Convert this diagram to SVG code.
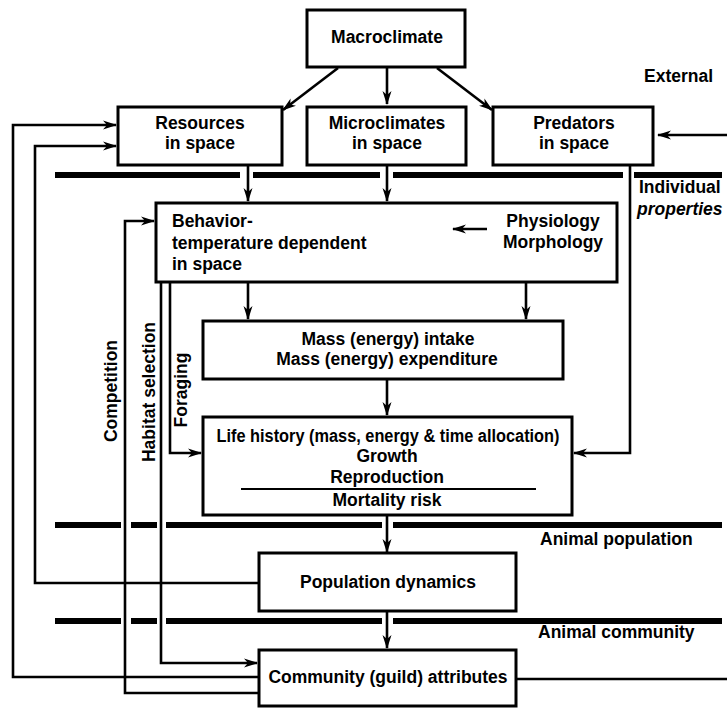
<svg xmlns="http://www.w3.org/2000/svg" width="727" height="708" viewBox="0 0 727 708">
<style>
.box{fill:#fff;stroke:#000;stroke-width:3}
.t{font-family:"Liberation Sans",Arial,Helvetica,sans-serif;font-weight:bold;font-size:17.5px;fill:#000}
.c{text-anchor:middle}
.ln{fill:none;stroke:#000;stroke-width:2.6}
.ar{fill:none;stroke:#000;stroke-width:2.6;marker-end:url(#ah)}
.bar{stroke:#000;stroke-width:6}
</style>
<defs>
<marker id="ah" markerUnits="userSpaceOnUse" markerWidth="14" markerHeight="10" viewBox="0 0 14 10" refX="13" refY="5" orient="auto">
<path d="M0,0.5 L14,5 L0,9.5 L4,5 z" fill="#000"/>
</marker>
</defs>
<rect width="727" height="708" fill="#fff"/>

<g id="bars">
<line class="bar" x1="55" y1="175" x2="240" y2="175"/>
<line class="bar" x1="253" y1="175" x2="380" y2="175"/>
<line class="bar" x1="393" y1="175" x2="623" y2="175"/>
<line class="bar" x1="634" y1="175" x2="722" y2="175"/>
<line class="bar" x1="55" y1="525" x2="121" y2="525"/>
<line class="bar" x1="131" y1="525" x2="157" y2="525"/>
<line class="bar" x1="166" y1="525" x2="382" y2="525"/>
<line class="bar" x1="393" y1="525" x2="722" y2="525"/>
<line class="bar" x1="55" y1="621" x2="121" y2="621"/>
<line class="bar" x1="131" y1="621" x2="157" y2="621"/>
<line class="bar" x1="166" y1="621" x2="382" y2="621"/>
<line class="bar" x1="393" y1="621" x2="722" y2="621"/>
</g>

<g id="levels" class="t">
<text x="644" y="82">External</text>
<text x="639" y="193">Individual</text>
<text x="637" y="215" font-style="italic">properties</text>
<text x="540" y="545">Animal population</text>
<text x="538" y="638">Animal community</text>
</g>

<g id="connectors">
<line class="ar" x1="338" y1="68" x2="283" y2="110"/>
<line class="ar" x1="387" y1="67" x2="387" y2="104"/>
<line class="ar" x1="437" y1="68" x2="492" y2="110"/>
<line class="ar" x1="727" y1="135" x2="658" y2="135"/>
<line class="ar" x1="248" y1="166" x2="248" y2="201"/>
<line class="ar" x1="387" y1="166" x2="387" y2="201"/>
<polyline class="ar" points="630,165 630,453 574,453"/>
<line class="ar" x1="248" y1="282" x2="248" y2="319"/>
<line class="ar" x1="526" y1="282" x2="526" y2="319"/>
<line class="ar" x1="387" y1="379" x2="387" y2="415"/>
<line class="ar" x1="387" y1="515" x2="387" y2="552"/>
<line class="ar" x1="387" y1="611" x2="387" y2="648"/>
<polyline class="ar" points="259,677 13,677 13,125 116,125"/>
<polyline class="ar" points="259,583 35,583 35,146 116,146"/>
<polyline class="ar" points="259,693 125,693 125,221 154,221"/>
<polyline class="ar" points="161,282 161,663 257,663"/>
<polyline class="ar" points="170,282 170,453 201,453"/>
<line class="ln" x1="516" y1="679" x2="727" y2="679"/>
</g>

<g id="sidelabels" class="t c">
<text transform="translate(117,391) rotate(-90)">Competition</text>
<text transform="translate(155,392) rotate(-90)">Habitat selection</text>
<text transform="translate(187,390) rotate(-90)">Foraging</text>
</g>

<g id="macroclimate">
<rect class="box" x="307" y="10" width="158" height="57"/>
<text class="t c" x="387" y="43">Macroclimate</text>
</g>

<g id="resources">
<rect class="box" x="118" y="107" width="164" height="58"/>
<text class="t c" x="200" y="129">Resources</text>
<text class="t c" x="200" y="149">in space</text>
</g>

<g id="microclimates">
<rect class="box" x="307" y="107" width="159" height="58"/>
<text class="t c" x="387" y="129">Microclimates</text>
<text class="t c" x="387" y="149">in space</text>
</g>

<g id="predators">
<rect class="box" x="493" y="107" width="160" height="58"/>
<text class="t c" x="574" y="129">Predators</text>
<text class="t c" x="574" y="149">in space</text>
</g>

<g id="behavior">
<rect class="box" x="156" y="203" width="461" height="79"/>
<text class="t" x="172" y="227">Behavior-</text>
<text class="t" x="172" y="249">temperature dependent</text>
<text class="t" x="172" y="270">in space</text>
<text class="t c" x="553" y="227">Physiology</text>
<text class="t c" x="553" y="248">Morphology</text>
<line class="ar" x1="487" y1="229" x2="453" y2="229"/>
</g>

<g id="mass">
<rect class="box" x="203" y="321" width="360" height="58"/>
<text class="t c" x="388" y="345">Mass (energy) intake</text>
<text class="t c" x="387" y="365">Mass (energy) expenditure</text>
</g>

<g id="lifehistory">
<rect class="box" x="203" y="417" width="369" height="98"/>
<text class="t c" x="388" y="442" textLength="343" lengthAdjust="spacingAndGlyphs">Life history (mass, energy &amp; time allocation)</text>
<text class="t c" x="387" y="462">Growth</text>
<text class="t c" x="387" y="483">Reproduction</text>
<line x1="241" y1="489" x2="536" y2="489" stroke="#000" stroke-width="1.8"/>
<text class="t c" x="387" y="506">Mortality risk</text>
</g>

<g id="population">
<rect class="box" x="259" y="553" width="257" height="58"/>
<text class="t c" x="388" y="588">Population dynamics</text>
</g>

<g id="community">
<rect class="box" x="259" y="650" width="257" height="56"/>
<text class="t c" x="388" y="683">Community (guild) attributes</text>
</g>
</svg>
